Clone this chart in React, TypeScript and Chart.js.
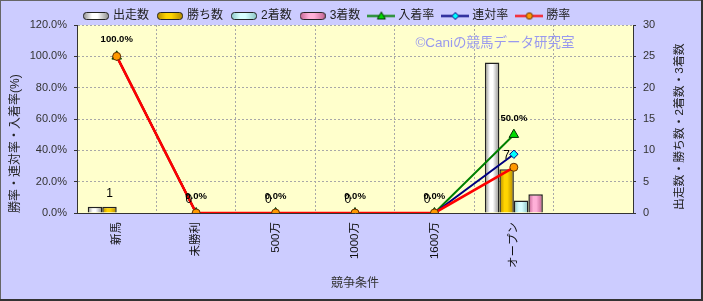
import React, { useEffect, useRef } from 'react';
import { Chart, registerables } from 'chart.js';

Chart.register(...registerables);

// ---- data ----
const categories = ['新馬', '未勝利', '500万', '1000万', '1600万', 'オープン', ''];
const starts = [1, 0, 0, 0, 0, 24, null];
const wins = [1, 0, 0, 0, 0, 7, null];
const seconds = [0, 0, 0, 0, 0, 2, null];
const thirds = [0, 0, 0, 0, 0, 3, null];
const placeRate = [100, 0, 0, 0, 0, 50.0, null];
const rentaiRate = [100, 0, 0, 0, 0, 37.5, null];
const winRate = [100, 0, 0, 0, 0, 29.2, null];
const seriesNames = ['出走数', '勝ち数', '2着数', '3着数', '入着率', '連対率', '勝率'];
const rateTicks = [0, 20, 40, 60, 80, 100, 120];
const countTicks = [0, 5, 10, 15, 20, 25, 30];
const leftTitle = '勝率・連対率・入着率(%)';
const rightTitle = '出走数・勝ち数・2着数・3着数';
const xTitle = '競争条件';
const watermark = '©Caniの競馬データ研究室';

const FONT = '"Liberation Sans", "Noto Sans CJK JP", sans-serif';

const barStyles = [
  { light: '#ffffff', dark: '#8a8a8a' },
  { light: '#ffd400', dark: '#b08600' },
  { light: '#d8ffff', dark: '#88c4c4' },
  { light: '#ffb0d8', dark: '#c0608f' },
];

const lineStyles = [
  { color: '#008000', point: 'triangle', fill: '#00dd00', border: '#003300', radius: 5.5, width: 2 },
  { color: '#000080', point: 'rectRot', fill: '#00ffff', border: '#000080', radius: 4.2, width: 2 },
  { color: '#ff0000', point: 'circle', fill: '#ff9900', border: '#663300', radius: 4, width: 2.6 },
];

function addStops(gr: CanvasGradient, s: { light: string; dark: string }) {
  gr.addColorStop(0, s.dark);
  gr.addColorStop(0.35, s.light);
  gr.addColorStop(0.55, s.light);
  gr.addColorStop(1, s.dark);
}

function makeBarSwatch(s: { light: string; dark: string }) {
  const cv = document.createElement('canvas');
  cv.width = 26;
  cv.height = 8;
  const g = cv.getContext('2d')!;
  const gr = g.createLinearGradient(0, 0, 26, 0);
  addStops(gr, s);
  g.fillStyle = gr;
  g.beginPath();
  (g as any).roundRect(0.5, 0.5, 25, 7, 3);
  g.fill();
  g.strokeStyle = '#222';
  g.lineWidth = 1;
  g.stroke();
  return cv;
}

function makeLineSwatch(s: any) {
  const cv = document.createElement('canvas');
  cv.width = 28;
  cv.height = 11;
  const g = cv.getContext('2d')!;
  g.strokeStyle = s.color;
  g.lineWidth = 2;
  g.beginPath();
  g.moveTo(0, 5.5);
  g.lineTo(28, 5.5);
  g.stroke();
  g.fillStyle = s.fill;
  g.strokeStyle = s.border;
  g.lineWidth = 1;
  g.beginPath();
  const cx = 14, cy = 5.5;
  if (s.point === 'triangle') {
    g.moveTo(cx, cy - 4);
    g.lineTo(cx + 4, cy + 3);
    g.lineTo(cx - 4, cy + 3);
    g.closePath();
  } else if (s.point === 'rectRot') {
    g.moveTo(cx, cy - 3.5);
    g.lineTo(cx + 3.5, cy);
    g.lineTo(cx, cy + 3.5);
    g.lineTo(cx - 3.5, cy);
    g.closePath();
  } else {
    g.arc(cx, cy, 3.2, 0, Math.PI * 2);
  }
  g.fill();
  g.stroke();
  return cv;
}

export default function App() {
  const ref = useRef<HTMLCanvasElement>(null);

  useEffect(() => {
    const canvas = ref.current!;
    Chart.defaults.font.family = FONT;
    Chart.defaults.color = '#333';

    const swatches = [
      ...barStyles.map(makeBarSwatch),
      ...lineStyles.map(makeLineSwatch),
    ];

    const barData = [starts, wins, seconds, thirds];
    const lineData = [placeRate, rentaiRate, winRate];

    const datasets: any[] = [
      ...barData.map((d, i) => ({
        type: 'bar',
        label: seriesNames[i],
        data: d,
        yAxisID: 'y2',
        backgroundColor: barStyles[i].light,
        borderColor: '#222',
        borderWidth: 1.5,
        categoryPercentage: 0.73,
        barPercentage: 1,
        order: 10 + i,
      })),
      ...lineData.map((d, i) => ({
        type: 'line',
        label: seriesNames[4 + i],
        data: d,
        yAxisID: 'y',
        borderColor: lineStyles[i].color,
        borderWidth: lineStyles[i].width,
        pointStyle: lineStyles[i].point,
        pointRadius: lineStyles[i].radius,
        pointBackgroundColor: lineStyles[i].fill,
        pointBorderColor: lineStyles[i].border,
        pointBorderWidth: 1,
        tension: 0,
        fill: false,
        order: 3 - i,
      })),
    ];

    const deco = {
      id: 'deco',
      afterLayout(chart: any) {
        if (chart.legend) chart.legend.left = chart.chartArea.left - 2;
      },
      beforeDraw(chart: any) {
        const { ctx, width, height, chartArea: a } = chart;
        ctx.save();
        ctx.fillStyle = '#ccccff';
        ctx.fillRect(0, 0, width, height);
        ctx.fillStyle = '#ffffcc';
        ctx.fillRect(a.left, a.top, a.right - a.left, a.bottom - a.top);
        ctx.restore();
      },
      beforeDatasetsDraw(chart: any) {
        const { ctx, chartArea: a } = chart;
        ctx.save();
        ctx.font = `13.5px ${FONT}`;
        ctx.fillStyle = '#9999ee';
        ctx.textAlign = 'center';
        ctx.textBaseline = 'middle';
        ctx.fillText(watermark, a.left + 418, a.top + 18);
        ctx.restore();
        for (let d = 0; d < 4; d++) {
          const meta = chart.getDatasetMeta(d);
          meta.data.forEach((el: any) => {
            if (!el || !isFinite(el.x) || !el.width) return;
            const gr = ctx.createLinearGradient(el.x - el.width / 2, 0, el.x + el.width / 2, 0);
            addStops(gr, barStyles[d]);
            el.options = Object.assign({}, el.options, { backgroundColor: gr });
          });
        }
      },
      afterDatasetsDraw(chart: any) {
        const { ctx } = chart;
        ctx.save();
        ctx.fillStyle = '#000';
        ctx.textAlign = 'center';
        ctx.textBaseline = 'middle';
        ctx.font = `12px ${FONT}`;
        chart.getDatasetMeta(1).data.forEach((el: any, i: number) => {
          const v = wins[i];
          if (v == null) return;
          ctx.fillText(String(v), el.x, el.y - 13.5);
        });
        ctx.font = `bold 9.5px ${FONT}`;
        chart.getDatasetMeta(4).data.forEach((el: any, i: number) => {
          const v = placeRate[i];
          if (v == null) return;
          ctx.fillText(v.toFixed(1) + '%', el.x, el.y - 16.5);
        });
        ctx.restore();
      },
      afterDraw(chart: any) {
        const { ctx, width, height, chartArea: a } = chart;
        const y2 = chart.scales.y2;
        ctx.save();
        ctx.translate(y2.right - 23, a.bottom - 3);
        ctx.rotate(-Math.PI / 2);
        ctx.font = `11.8px ${FONT}`;
        ctx.fillStyle = '#222';
        ctx.textAlign = 'left';
        ctx.textBaseline = 'middle';
        ctx.fillText(rightTitle, 0, 0);
        ctx.restore();
        ctx.save();
        ctx.fillStyle = '#666';
        ctx.fillRect(0, 0, width, 1);
        ctx.fillRect(0, 0, 1, height);
        ctx.fillStyle = '#333';
        ctx.fillRect(width - 2, 0, 2, height);
        ctx.fillRect(0, height - 2, width, 2);
        ctx.restore();
      },
    };

    const chart = new Chart(canvas, {
      type: 'bar',
      data: { labels: categories, datasets },
      options: {
        responsive: false,
        animation: false,
        events: [],
        layout: { padding: 0 },
        plugins: {
          tooltip: { enabled: false },
          legend: {
            position: 'top',
            align: 'start',
            maxHeight: 25,
            labels: {
              usePointStyle: true,
              pointStyleWidth: 22,
              padding: 10,
              font: { size: 12, family: FONT },
              color: '#222',
              generateLabels: () =>
                seriesNames.map((name, i) => ({
                  text: name,
                  pointStyle: swatches[i],
                  fillStyle: 'rgba(0,0,0,0)',
                  strokeStyle: 'rgba(0,0,0,0)',
                  lineWidth: 0,
                  fontColor: '#222',
                  hidden: false,
                  datasetIndex: i,
                })),
            },
          },
        },
        scales: {
          x: {
            type: 'category',
            offset: true,
            grid: { offset: true, color: '#a8a8a8', drawTicks: false, lineWidth: 1 },
            border: { display: true, color: '#333', width: 1, dash: [2, 2] },
            ticks: {
              minRotation: 90,
              maxRotation: 90,
              autoSkip: false,
              padding: 9,
              color: '#111',
              font: { size: 11.5 },
            },
            title: {
              display: true,
              text: xTitle,
              color: '#333',
              font: { size: 12 },
              padding: { top: 0, bottom: 10 },
            },
            afterFit: (s: any) => {
              s.height = 88;
            },
          },
          y: {
            position: 'left',
            min: rateTicks[0],
            max: rateTicks[rateTicks.length - 1],
            ticks: {
              stepSize: rateTicks[1] - rateTicks[0],
              padding: 7,
              color: '#333',
              font: { size: 11 },
              callback: (v: any) => Number(v).toFixed(1) + '%',
            },
            grid: { color: '#a8a8a8', tickLength: 3, tickColor: '#333' },
            border: { display: true, color: '#333', width: 1, dash: [2, 2] },
            title: {
              display: true,
              text: leftTitle,
              align: 'start',
              color: '#222',
              font: { size: 12 },
              padding: { top: 8, bottom: 0 },
            },
            afterFit: (s: any) => {
              s.width = 77;
            },
          },
          y2: {
            position: 'right',
            min: countTicks[0],
            max: countTicks[countTicks.length - 1],
            ticks: {
              stepSize: countTicks[1] - countTicks[0],
              padding: 7,
              color: '#333',
              font: { size: 11 },
            },
            grid: { drawOnChartArea: false, tickLength: 3, tickColor: '#333' },
            border: { display: true, color: '#333', width: 1 },
            afterFit: (s: any) => {
              s.width = 70;
            },
          },
        },
      } as any,
      plugins: [deco],
    });

    return () => chart.destroy();
  }, []);

  return (
    <div style={{ position: 'fixed', left: 0, top: 0, width: 703, height: 301 }}>
      <canvas ref={ref} width={703} height={301} style={{ display: 'block', width: 703, height: 301 }} />
    </div>
  );
}
